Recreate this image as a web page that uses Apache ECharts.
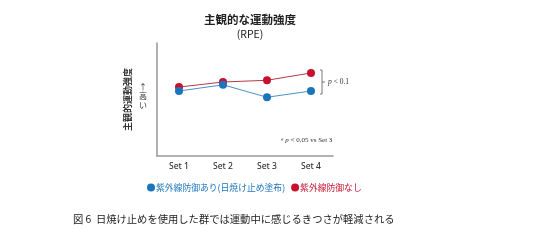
<!DOCTYPE html>
<html><head><meta charset="utf-8">
<script src="https://cdn.jsdelivr.net/npm/echarts@6/dist/echarts.min.js"></script>
<style>html,body{margin:0;padding:0;background:#fff}#c{width:536px;height:249px}</style>
</head><body><div id="c"></div>
<script>
var categories = ['Set 1', 'Set 2', 'Set 3', 'Set 4'];
var seriesNames = ['紫外線防御あり(日焼け止め塗布)', '紫外線防御なし'];
var protectedVals = [57.5, 63, 52, 57.5];
var unprotectedVals = [61, 65.5, 67, 73.5];

var chart = echarts.init(document.getElementById('c'), null, {renderer: 'canvas'});
var jp = 'Noto Sans CJK JP';
chart.setOption({
  animation: false,
  backgroundColor: '#fff',
  grid: {left: 157, top: 43, right: 203, bottom: 93},
  title: [
    {text: '主観的な運動強度', left: 245, top: 9, textAlign: 'center',
     textStyle: {fontFamily: jp, fontSize: 11.5, fontWeight: 'bold', color: '#222'}},
    {text: '(RPE)', left: 245, top: 24, textAlign: 'center',
     textStyle: {fontFamily: jp, fontSize: 10.5, fontWeight: 'normal', color: '#222'}}
  ],
  legend: {
    left: 142, top: 178, itemWidth: 8, itemHeight: 8, itemGap: 6, icon: 'circle',
    textStyle: {fontFamily: jp, fontSize: 8.8, padding: [0,0,0,-4]},
    data: [
      {name: seriesNames[0], textStyle: {color: '#1b75bc'}},
      {name: seriesNames[1], textStyle: {color: '#c8102e'}}
    ]
  },
  xAxis: {
    type: 'category', data: categories, boundaryGap: true,
    axisLine: {lineStyle: {color: '#999', width: 1.5}},
    axisTick: {show: false},
    axisLabel: {fontFamily: 'Noto Sans', fontSize: 8.5, fontWeight: 500, color: '#333', margin: 6}
  },
  yAxis: {
    type: 'value', min: 0, max: 100,
    axisLine: {show: true, lineStyle: {color: '#999', width: 1.5}},
    axisTick: {show: false}, axisLabel: {show: false}, splitLine: {show: false},
    name: '主観的運動強度', nameLocation: 'middle', nameGap: 25, nameRotate: 90,
    nameTextStyle: {fontFamily: jp, fontSize: 9, fontWeight: 'bold', color: '#333'}
  },
  series: [
    {name: seriesNames[0], type: 'line', data: protectedVals, symbol: 'circle', symbolSize: 8,
     itemStyle: {color: '#1b75bc'}, lineStyle: {color: '#4a92c8', width: 1}, z: 3},
    {name: seriesNames[1], type: 'line', data: unprotectedVals, symbol: 'circle', symbolSize: 8,
     itemStyle: {color: '#c8102e'}, lineStyle: {color: '#b53a48', width: 1}, z: 2,
     markPoint: {symbol: 'none', data: [{coord: ['Set 4', unprotectedVals[3]],
       label: {show: true, formatter: '#', position: 'top', distance: 4, color: '#c8102e', fontSize: 8, fontFamily: 'Liberation Serif'}}]}}
  ],
  graphic: [
    {type: 'text', left: 139, top: 82, style: {text: '↑\n高\nい', fontFamily: jp, fontSize: 8, lineHeight: 9, fill: '#333', textAlign: 'center'}},
    {type: 'polyline', shape: {points: [[320,70],[322,70],[322,94],[320,94]]}, style: {stroke: '#555', lineWidth: 0.8, fill: null}},
    {type: 'line', shape: {x1: 322, y1: 82, x2: 325, y2: 82}, style: {stroke: '#555', lineWidth: 0.8}},
    {type: 'text', left: 328, top: 78, style: {rich: {i: {fontStyle: 'italic', fontFamily: 'Liberation Serif', fontSize: 7.5, fill: '#333'}, n: {fontFamily: 'Liberation Serif', fontSize: 7.5, fill: '#333'}}, text: '{i|p}{n| < 0.1}'}},
    {type: 'text', left: 281, top: 137, style: {rich: {s: {fontFamily: 'Liberation Serif', fontSize: 5, fill: '#333', verticalAlign: 'top'}, i: {fontStyle: 'italic', fontFamily: 'Liberation Serif', fontSize: 7, fill: '#333'}, n: {fontFamily: 'Liberation Serif', fontSize: 7, fill: '#333'}}, text: '{s|#}{i| p}{n| < 0.05 vs Set 3}'}},
    {type: 'text', left: 73, top: 214, style: {text: '図 6  日焼け止めを使用した群では運動中に感じるきつさが軽減される', fontFamily: jp, fontSize: 10.3, fill: '#222'}}
  ]
});
</script></body></html>
